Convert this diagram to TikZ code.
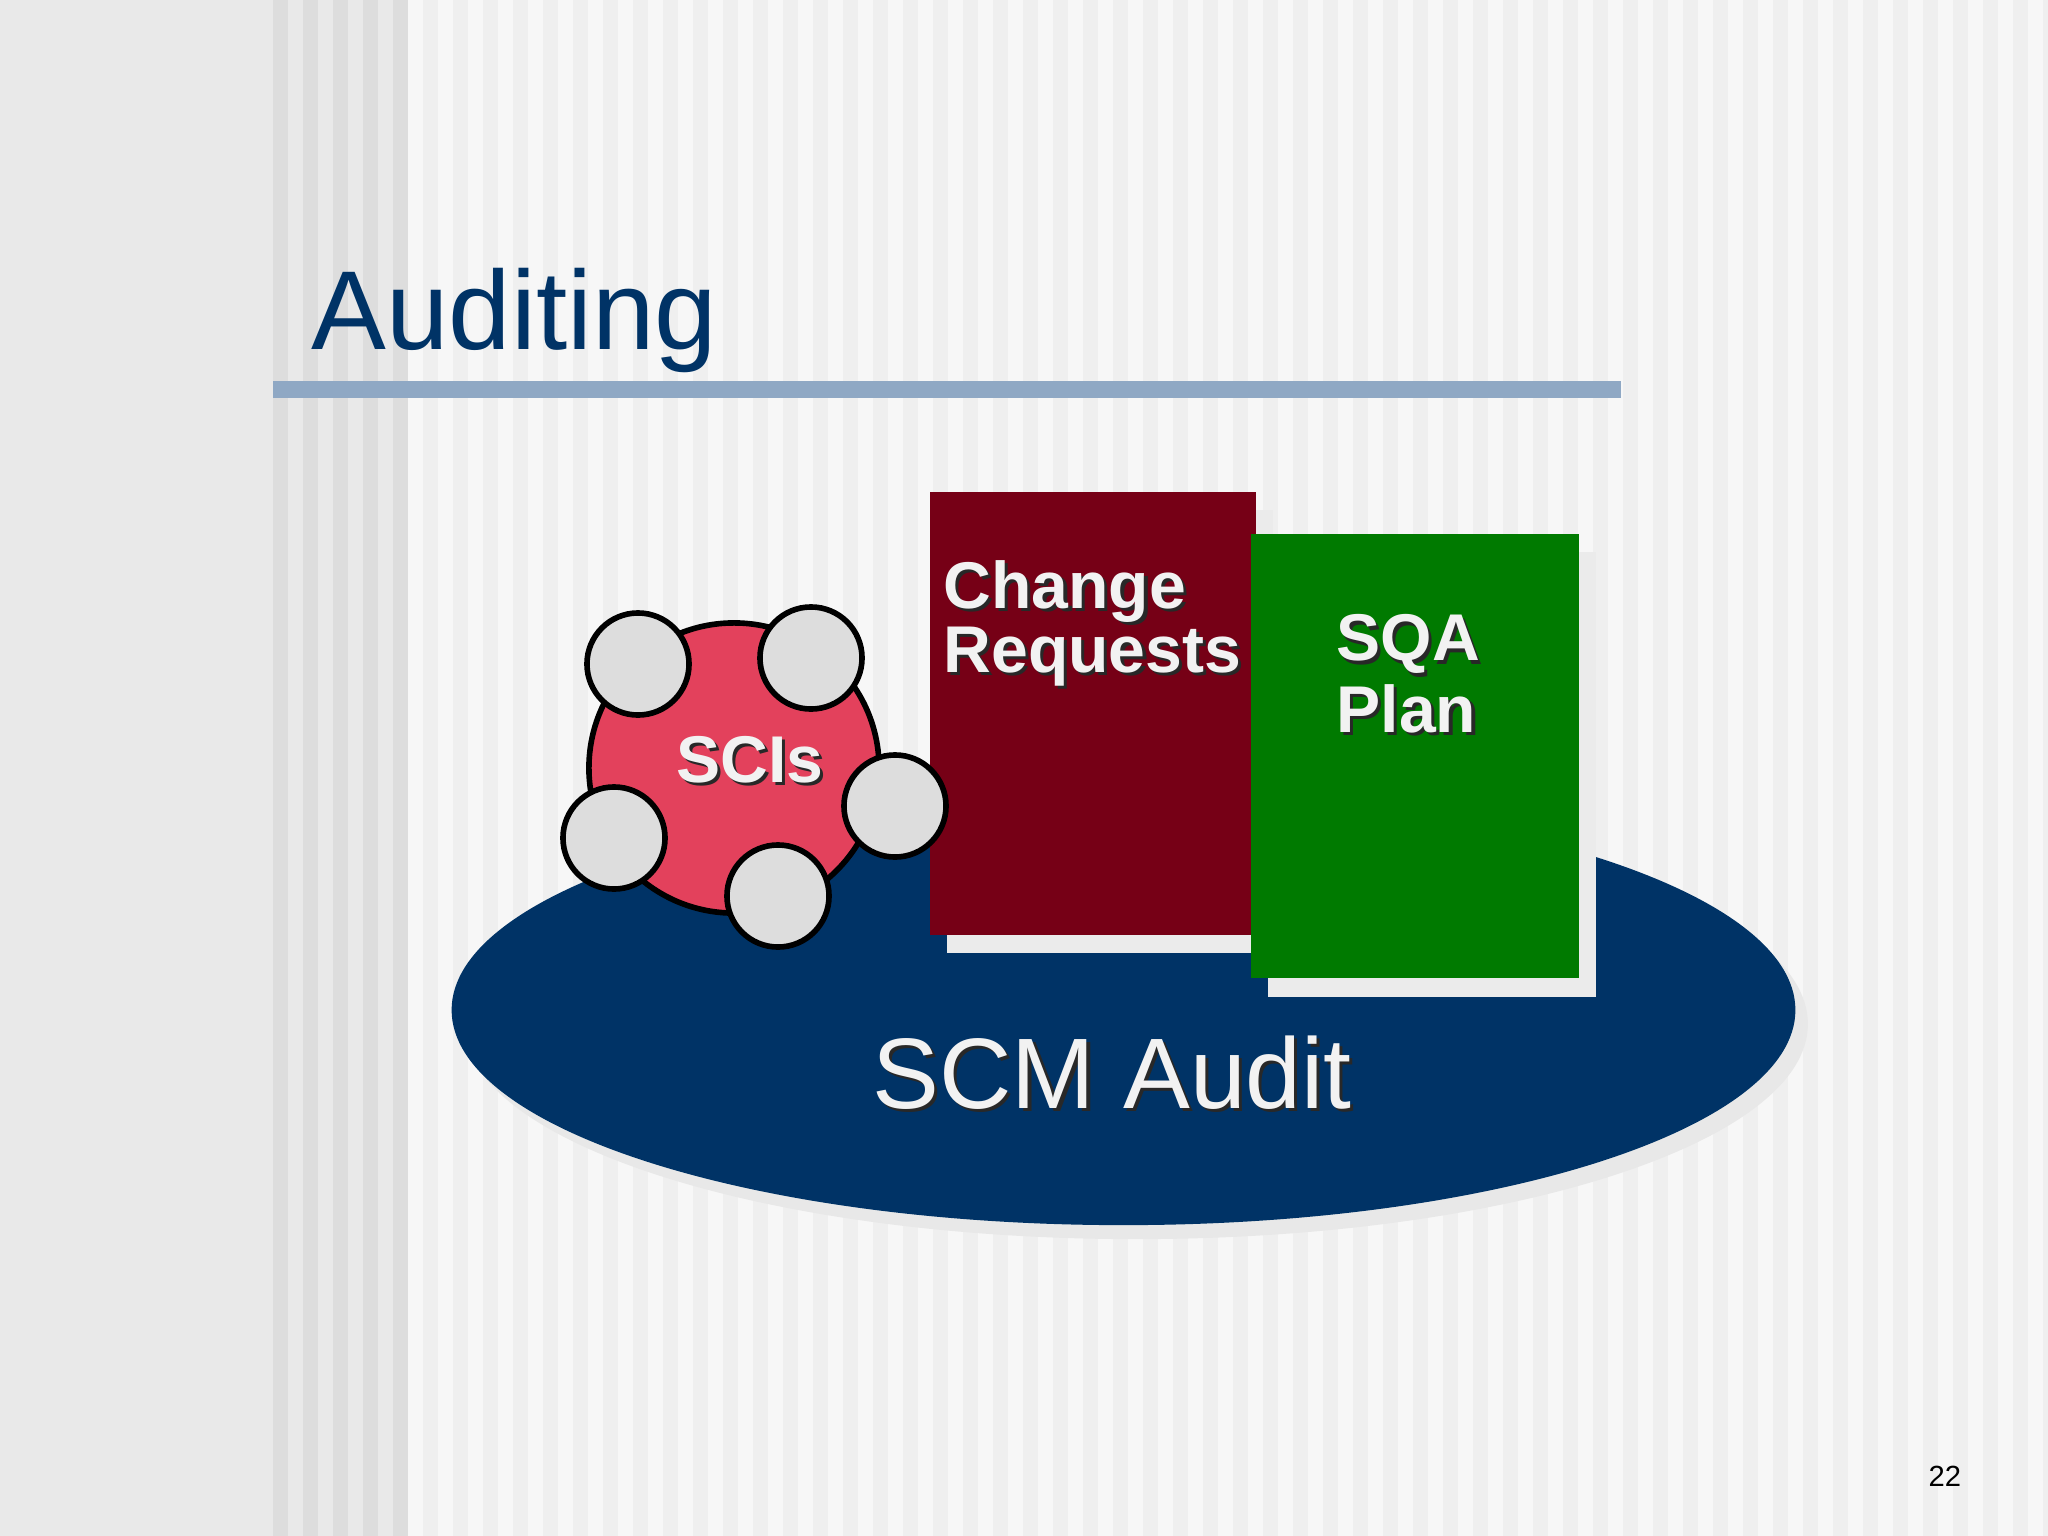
\documentclass[tikz,border=0pt]{standalone}
\usepackage{fontspec}
\setmainfont{Liberation Sans}

\definecolor{bgside}{RGB}{233,233,233}
\definecolor{stripedark}{RGB}{221,221,221}
\definecolor{stripebase}{RGB}{239,239,239}
\definecolor{stripelight}{RGB}{247,247,247}
\definecolor{rulecol}{RGB}{143,168,196}
\definecolor{audblue}{RGB}{0,51,102}
\definecolor{crred}{RGB}{118,0,22}
\definecolor{sqagreen}{RGB}{0,122,0}
\definecolor{scired}{RGB}{227,65,92}
\definecolor{ballgray}{RGB}{221,221,221}
\definecolor{paper}{RGB}{235,235,235}
\definecolor{txtwhite}{RGB}{242,242,242}
\definecolor{txtshadow}{RGB}{40,40,40}

\newcommand{\shtext}[1]{\makebox[0pt][l]{\hspace{0.9pt}\raisebox{-0.9pt}{\color{txtshadow}#1}}#1}

\tikzset{
  ball/.style={circle, draw=black, line width=1.6pt, fill=ballgray, inner sep=0pt, minimum size=1.02cm},
  lbl/.style={text=txtwhite, font=\bfseries\fontsize{18.8pt}{18.2pt}\selectfont, align=left, inner sep=0pt, anchor=base west}
}

\begin{document}
\begin{tikzpicture}[x=0.01cm, y=-0.01cm]
\newcommand{\sciballs}{638/664/1, 811/658/2, 895/806/3, 778/896/4, 614/838/5}

\useasboundingbox (0,0) rectangle (2048,1536);
\fill[bgside] (0,0) rectangle (2048,1536);
\fill[stripebase] (408,0) rectangle (2048,1536);
\foreach \x in {273,303,...,393}
  \fill[stripedark] (\x,0) rectangle ++(15,1536);
\foreach \x in {408,438,...,2028}
  \fill[stripelight] (\x,0) rectangle ++(15,1536);

\fill[rulecol] (273,381) rectangle (1621,398);
\node[anchor=base west, inner sep=0pt, text=audblue, font=\fontsize{31.9pt}{38pt}\selectfont] (title) at (311,349) {Auditing};

\fill[black!9] (1136,1024) ellipse [x radius=6.715cm, y radius=2.15cm];
\fill[audblue] (1123.5,1010) ellipse [x radius=6.715cm, y radius=2.15cm];

\fill[paper] (947,510) rectangle (1273,953);
\fill[crred] (930,492) rectangle (1256,935);
\fill[paper] (1268,552) rectangle (1596,997);
\fill[sqagreen] (1251,534) rectangle (1579,978);

\node[circle, draw=black, line width=1.6pt, fill=scired, inner sep=0pt, minimum size=2.9cm] (sci) at (734,768) {};
\foreach \x / \y / \n in \sciballs
  \node[ball] (b\n) at (\x,\y) {};

\node[lbl, anchor=base] (scis) at (750,782) {\shtext{SCIs}};
\node[lbl] (change) at (943,672) {\shtext{Change}\\\shtext{Requests}};
\node[lbl, font=\bfseries\fontsize{18.8pt}{20.2pt}\selectfont] (sqa) at (1336,732) {\shtext{SQA}\\\shtext{Plan}};
\node[anchor=base west, inner sep=0pt, text=txtwhite, font=\fontsize{28.5pt}{34pt}\selectfont] (audit) at (872,1108) {\shtext{SCM Audit}};
\node[anchor=base west, inner sep=0pt, font=\fontsize{8.3pt}{10pt}\selectfont] (page) at (1928,1486) {22};
\end{tikzpicture}
\end{document}
